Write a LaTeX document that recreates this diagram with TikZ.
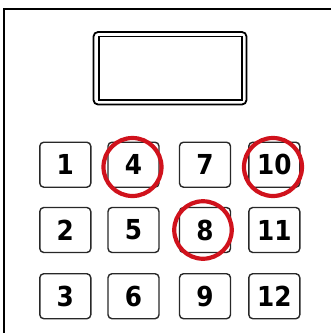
\documentclass[tikz,border=0pt]{standalone}
\usepackage{fontspec}
\newfontfamily\keyfont{DejaVu Sans Condensed}
\definecolor{mark}{RGB}{208,18,28}
\definecolor{edge}{RGB}{40,40,40}
\begin{document}
\begin{tikzpicture}[x=1pt,y=-1pt,
  key/.style={draw=edge,line width=1.4pt,rounded corners=4pt,fill=white,
    minimum width=51pt,minimum height=45pt,inner sep=0pt,
    font=\keyfont\bfseries\fontsize{27.5}{27.5}\selectfont},
  ring/.style={draw=mark,line width=4.2pt,circle,inner sep=0pt}]
\useasboundingbox (0,0) rectangle (331,333);
% frame
\draw[line width=2pt] (331,8.5) -- (4.3,8.5) -- (4.3,333);
% display
\draw[line width=1.8pt,rounded corners=4.5pt] (93.5,32) rectangle (246.5,104.5);
\draw[line width=1.8pt] (99,36.5) rectangle (242,100);
% keys
\node[key] (k1)  at (65.3,164.7) {1};
\node[key] (k2)  at (65.3,230)   {2};
\node[key] (k3)  at (65.3,296.2) {3};
\node[key] (k4)  at (133.5,164.7) {4};
\node[key] (k5)  at (133.5,230)   {5};
\node[key] (k6)  at (133.5,296.2) {6};
\node[key] (k7)  at (205,164.7) {7};
\node[key] (k8)  at (205,230)   {8};
\node[key] (k9)  at (205,296.2) {9};
\node[key] (k10) at (274.3,164.7) {10};
\node[key] (k11) at (274.3,230)   {11};
\node[key] (k12) at (274.3,296.2) {12};
% marks
\node[ring,minimum size=58pt] (r4)  at (132.5,167) {};
\node[ring,minimum size=58pt] (r10) at (273,167) {};
\node[ring,minimum size=57.5pt] (r8)  at (203,230) {};
\end{tikzpicture}
\end{document}
